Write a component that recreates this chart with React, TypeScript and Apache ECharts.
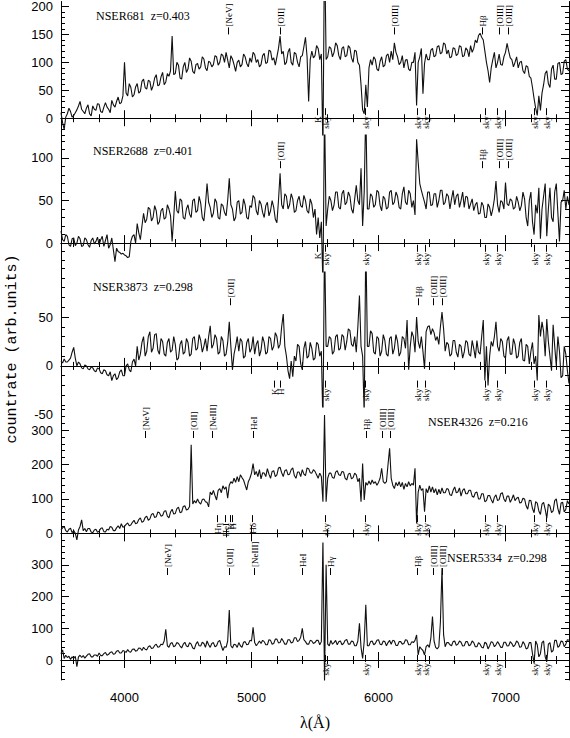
import React, { useEffect, useRef } from "react";
import * as echarts from "echarts";

// wavelength grid of the spectra (Angstrom)
const lambdaStart = 3500;
const lambdaStep = 12.5;

const flux681 = [
  10, -8, -20, 2, 8, 18, 12, 2, 5, 10, 15, 22, 30, 16, 12, 8,
  18, 24, 8, 4, 22, 16, 14, 26, 25, 12, 10, 20, 28, 20, 16, 10,
  32, 24, 20, 30, 38, 26, 28, 40, 100, 45, 40, 62, 55, 38, 42, 56,
  62, 45, 48, 66, 70, 55, 52, 68, 66, 50, 58, 72, 78, 58, 60, 74,
  82, 60, 65, 80, 75, 85, 147, 78, 80, 100, 95, 72, 70, 92, 100, 82,
  88, 108, 102, 84, 80, 96, 98, 88, 92, 110, 106, 90, 85, 102, 100, 92,
  96, 112, 110, 95, 100, 115, 112, 100, 118, 104, 90, 112, 106, 96, 84, 100,
  104, 92, 96, 115, 110, 98, 92, 108, 100, 118, 114, 100, 105, 92, 96, 112,
  116, 98, 100, 122, 120, 104, 108, 95, 110, 125, 147, 115, 120, 96, 100, 118,
  125, 100, 95, 118, 115, 100, 92, 110, 112, 128, 145, 110, 30, 105, 120, 108,
  112, 130, 125, 105, 115, -60, 320, 105, 110, 128, 125, 110, 118, 135, 130, 112,
  105, 125, 128, 110, 112, 130, 126, 108, 100, 122, 120, 100, 95, 60, 15, 8,
  60, 20, 90, 105, 95, 110, 105, 88, 85, 102, 110, 92, 95, 112, 115, 100,
  120, 105, 135, 118, 110, 96, 100, 112, 90, 104, 105, 88, 85, 100, 100, 118,
  23, 100, 110, 125, 44, 98, 115, 105, 105, 122, 125, 110, 112, 128, 130, 115,
  118, 135, 132, 115, 122, 108, 110, 126, 125, 112, 115, 130, 128, 110, 112, 126,
  122, 110, 130, 118, 125, 140, 135, 148, 152, 145, 140, 120, 100, 85, 64, 90,
  105, 118, 90, 100, 115, 96, 95, 110, 118, 134, 120, 108, 105, 92, 100, 110,
  90, 100, 102, 85, 80, 94, 92, 75, 72, 55, 35, 18, 5, 40, 14, 45,
  60, 80, 85, 62, 55, 88, 95, 70, 70, 98, 100, 78, 80, 102, 105, 88, 85,
];

const flux2688 = [
  14, 4, 2, 10, 8, -2, -4, 5, 6, -3, 0, 8, 5, -4, -3, 6,
  4, -2, -5, 3, 6, -1, 2, 7, -2, 4, 8, -4, 3, 10, -6, -2,
  6, -8, -22, -6, -10, -11, -13, -12, -14, -15, -17, -16, 2, 8, 10, 0,
  23, 12, 4, 20, 35, 24, 28, 42, 40, 26, 30, 44, 38, 22, 25, 38,
  41, 28, 30, 45, 40, 32, 2, 30, 61, 38, 35, 52, 50, 30, 28, 40,
  45, 34, 30, 50, 52, 36, 38, 55, 47, 30, 26, 45, 70, 48, 42, 30,
  35, 52, 48, 30, 28, 46, 44, 36, 32, 50, 76, 45, 40, 26, 30, 48,
  50, 34, 36, 52, 45, 30, 28, 44, 42, 56, 53, 38, 33, 50, 46, 36,
  30, 44, 48, 32, 38, 50, 42, 28, 24, 50, 82, 45, 40, 58, 55, 40,
  45, 58, 52, 36, 38, 50, 55, 44, 42, 56, 50, 38, 35, 52, 46, 30,
  40, 10, 30, 6, 25, -50, 160, 20, 40, 55, 50, 38, 45, 60, 60, 42,
  40, 58, 62, 45, 48, 60, 55, 40, 35, 52, 68, 50, 45, 88, 20, 60,
  160, 40, 40, 58, 55, 42, 45, 62, 60, 44, 38, 55, 52, 40, 42, 60,
  62, 45, 48, 60, 55, 42, 40, 58, 66, 48, 45, 62, 58, 42, 50, 33,
  122, 95, 70, 62, 55, 48, 40, 60, 60, 44, 45, 58, 58, 42, 50, 62,
  62, 45, 48, 58, 55, 40, 52, 62, 45, 55, 58, 42, 50, 60, 42, 55,
  54, 40, 46, 52, 38, 45, 48, 34, 35, 48, 44, 30, 30, 46, 42, 32,
  40, 52, 73, 45, 36, 50, 48, 40, 71, 46, 44, 52, 50, 40, 42, 55,
  48, 38, 44, 60, 52, 30, 20, 50, 60, 25, 10, 45, 35, 65, 5, 40,
  55, 70, 8, 40, 65, 30, 25, 60, 70, 35, 2, 48, 50, 62, 40, 55, 45,
];

const flux3873 = [
  5, 3, 7, 4, 4, 6, 8, 14, 19, 8, 0, 4, 2, -2, -3, 1,
  0, -3, -4, -1, -2, -5, -6, -2, -3, -7, -8, -4, -5, -9, -10, -6,
  -15, -10, -8, -14, -12, -6, -4, -10, -10, 0, 2, -4, -6, 4, 7, 0,
  20, 6, 12, 24, 30, 10, 15, 30, 35, 14, 18, 32, 33, 16, 12, 28,
  25, 12, 10, 24, 28, 14, 16, 30, 22, 6, 8, 22, 26, 12, 14, 28,
  24, 10, 12, 28, 30, 16, 18, 32, 26, 14, 20, 28, 15, 30, 41, 18,
  22, 32, 28, 12, 14, 30, 26, 10, 12, 24, 45, 20, -4, 12, 20, 30,
  15, 28, 25, 8, 10, 24, 28, 14, 18, 30, 12, 22, 26, 10, 16, 30,
  24, 12, 14, 30, 28, 16, 20, 34, 30, 18, 22, 40, 53, 20, 10, -5,
  -13, 5, -11, 10, 5, 22, 20, 2, -4, 18, 25, 8, 10, 24, 18, 6,
  8, 24, 22, 10, 15, -60, 130, 20, 20, 30, 28, 12, 15, 30, 32, 16,
  18, 32, 30, 16, 25, 38, 36, 22, 20, 30, 14, 40, 72, 20, 10, -50,
  130, 20, 20, 36, 33, 14, 12, 30, 28, 10, 15, 32, 26, 12, 10, 28,
  30, 12, 18, 32, 25, 10, 14, 30, 28, 18, 47, -4, 20, 35, 30, 14,
  50, 25, 18, 30, 15, -3, 35, 40, 41, 32, 38, 34, 26, 30, 22, 40,
  55, 38, 15, 24, 22, 10, 12, 26, 26, 14, 9, 22, 20, 8, 14, 26,
  24, 12, 10, 26, 18, 8, 26, 14, 12, 30, 47, -15, 20, -20, 10, 25,
  20, 30, 45, 20, 15, 28, 25, 10, 8, 26, 30, 12, 12, 28, 22, 8,
  10, 24, 28, 6, 5, 22, 20, 2, 15, 24, 2, 10, -15, 52, 30, 45,
  35, 10, 48, 25, 10, -5, 42, 20, 0, 30, 15, -12, -10, 20, 12, -5, -18,
];

const flux4326 = [
  10, 16, 20, 8, 4, 12, 15, 2, 8, 0, -19, 10, 20, 39, 8, 14,
  5, 14, 14, 4, 2, 10, 12, 3, 6, 14, 16, 5, 4, 12, 10, 20,
  18, 8, 8, 16, 22, 14, 28, 18, 20, 26, 30, 22, 24, 32, 38, 28,
  30, 40, 45, 32, 35, 46, 50, 38, 42, 55, 58, 46, 48, 62, 60, 50,
  52, 64, 66, 50, 45, 62, 70, 56, 58, 72, 76, 60, 62, 78, 80, 68,
  70, 78, 257, 85, 95, 88, 100, 90, 85, 98, 100, 92, 90, 77, 120, 112,
  125, 110, 97, 125, 130, 118, 138, 128, 135, 102, 140, 150, 145, 160, 148, 165,
  150, 170, 162, 155, 140, 126, 150, 160, 175, 203, 170, 180, 165, 185, 158, 176,
  175, 165, 188, 172, 160, 180, 182, 165, 170, 190, 192, 176, 165, 182, 185, 170,
  172, 185, 190, 168, 160, 178, 178, 165, 185, 172, 168, 190, 188, 176, 175, 185,
  180, 170, 160, 175, 165, 92, 344, 92, 160, 175, 175, 162, 160, 178, 182, 170,
  168, 180, 178, 160, 155, 172, 175, 158, 162, 175, 170, 150, 160, 92, 203, 97,
  148, 140, 152, 142, 155, 145, 150, 140, 148, 160, 189, 150, 145, 150, 200, 247,
  160, 140, 130, 148, 138, 150, 135, 148, 128, 145, 135, 150, 138, 145, 140, 189,
  29, 120, 140, 125, 130, 63, 130, 118, 138, 120, 135, 118, 130, 112, 128, 115,
  132, 118, 118, 130, 128, 112, 110, 125, 135, 118, 120, 132, 108, 125, 130, 115,
  115, 125, 125, 108, 105, 118, 120, 100, 100, 115, 115, 92, 95, 110, 110, 98,
  88, 105, 112, 95, 98, 115, 118, 100, 92, 108, 108, 90, 100, 112, 95, 102,
  105, 88, 90, 102, 100, 80, 70, 96, 95, 72, 60, 92, 88, 65, 55, 85,
  90, 70, 44, 85, 80, 60, 65, 95, 100, 72, 55, 88, 90, 62, 70, 95, 85,
];

const flux5334 = [
  20, 32, 5, 15, 8, 12, 2, 10, 5, 12, -21, 10, 15, 8, 14, 6,
  12, 18, 20, 10, 10, 16, 16, 12, 22, 14, 14, 20, 24, 15, 18, 24,
  26, 18, 20, 28, 30, 22, 22, 30, 28, 24, 33, 26, 25, 34, 35, 28,
  30, 38, 37, 30, 40, 34, 32, 42, 45, 36, 38, 46, 50, 40, 42, 50,
  48, 60, 97, 45, 40, 52, 55, 42, 45, 55, 52, 44, 38, 50, 56, 44,
  42, 55, 50, 38, 35, 50, 58, 45, 44, 56, 52, 40, 60, 48, 40, 52,
  55, 42, 45, 58, 62, 45, 30, 42, 40, 60, 158, 45, 38, 50, 48, 40,
  55, 45, 40, 56, 58, 48, 50, 62, 60, 103, 55, 45, 52, 60, 52, 62,
  58, 48, 48, 64, 62, 50, 52, 66, 66, 54, 55, 68, 60, 50, 50, 64,
  64, 54, 56, 70, 70, 58, 62, 72, 100, 64, 58, 50, 50, 62, 60, 52,
  55, 62, 62, 48, 58, 380, -70, 300, 50, 45, 62, 50, 55, 62, 48, 58,
  60, 48, 52, 62, 65, 50, 50, 60, 58, 45, 45, 60, 116, 40, 5, 60,
  174, 45, 45, 58, 60, 48, 52, 62, 64, 50, 48, 60, 58, 45, 55, 62,
  50, 62, 60, 46, 46, 58, 58, 50, 52, 64, 62, 48, 48, 58, 55, 62,
  79, 16, 42, 35, 30, 16, 42, 48, 40, 70, 137, 60, 40, 35, 42, 120,
  290, 80, 42, 55, 55, 48, 45, 58, 60, 46, 50, 60, 56, 44, 45, 58,
  58, 45, 48, 60, 55, 42, 42, 55, 50, 40, 38, 56, 52, 35, 45, 58,
  55, 42, 48, 58, 50, 40, 40, 56, 56, 44, 45, 58, 52, 42, 48, 60,
  55, 40, 42, 58, 50, 35, 38, 55, 55, 20, -11, 60, 48, 10, 20, 55,
  60, 10, -5, 50, 55, 25, 30, 62, 62, 40, 45, 60, 58, 42, 50, 64, 62,
];

// tick values
const xMajor = [4000, 5000, 6000, 7000];
const xMinor = [3600, 3800, 4200, 4400, 4600, 4800, 5200, 5400, 5600, 5800, 6200, 6400, 6600, 6800, 7200, 7400];

// observed wavelengths of sky lines
const skyLines = [5577, 5893, 6300, 6366, 6840, 6932, 7228, 7320];

// emission / absorption line labels (observed wavelength)
const linesTop681: [string, number][] = [["[NeV]", 4814], ["[OII]", 5228], ["[OIII]", 6125], ["Hβ", 6814], ["[OIII]", 6945], ["[OIII]", 7019]];
const linesBot681: [string, number][] = [["K", 5519]];
const linesTop2688: [string, number][] = [["[OII]", 5225], ["Hβ", 6813], ["[OIII]", 6945], ["[OIII]", 7018]];
const linesBot2688: [string, number][] = [["K", 5513]];
const linesTop3873: [string, number][] = [["[OII]", 4830], ["Hβ", 6314], ["[OIII]", 6432], ["[OIII]", 6498]];
const linesBot3873: [string, number][] = [["K", 5180], ["H", 5228]];
const linesTop4326: [string, number][] = [["[NeV]", 4160], ["[OII]", 4541], ["[NeIII]", 4686], ["HeI", 5014], ["Hβ", 5902], ["[OIII]", 6026], ["[OIII]", 6091]];
const linesBot4326: [string, number][] = [["Hη", 4725], ["HeI", 4791], ["K", 4830], ["H", 4848], ["Hδ", 5006]];
const linesTop5334: [string, number][] = [["[NeV]", 4331], ["[OII]", 4825], ["[NeIII]", 5019], ["HeI", 5395], ["Hγ", 5618], ["Hβ", 6301], ["[OIII]", 6432], ["[OIII]", 6503]];
const linesBot5334: [string, number][] = [];

const titles = ["NSER681  z=0.403", "NSER2688  z=0.401", "NSER3873  z=0.298", "NSER4326  z=0.216", "NSER5334  z=0.298"];

const panels = [
  { flux: flux681, yMin: -30, yMax: 209, major: [0, 50, 100, 150, 200], minorStep: 10, top: 0, height: 135, topAnchor: 150, botAnchor: 18, linesTop: linesTop681, linesBot: linesBot681, titleX: 96, titleY: 16 },
  { flux: flux2688, yMin: -34, yMax: 127, major: [0, 50, 100], minorStep: 10, top: 135, height: 137, topAnchor: 88, botAnchor: -2, linesTop: linesTop2688, linesBot: linesBot2688, titleX: 93, titleY: 151 },
  { flux: flux3873, yMin: -42, yMax: 96, major: [0, 50], minorStep: 10, top: 272, height: 135, topAnchor: 62, botAnchor: -15, linesTop: linesTop3873, linesBot: linesBot3873, titleX: 93, titleY: 287 },
  { flux: flux4326, yMin: -28, yMax: 367, major: [0, 100, 200, 300], minorStep: 20, top: 407, height: 136, topAnchor: 277, botAnchor: 53, linesTop: linesTop4326, linesBot: linesBot4326, titleX: 428, titleY: 422 },
  { flux: flux5334, yMin: -63, yMax: 369, major: [0, 100, 200, 300], minorStep: 20, top: 543, height: 137, topAnchor: 268, botAnchor: 16, linesTop: linesTop5334, linesBot: linesBot5334, titleX: 447, titleY: 558 },
];

function minorTicks(min: number, max: number, step: number, major: number[]) {
  const out: number[] = [];
  for (let v = Math.ceil(min / step) * step; v <= max; v += step) {
    if (!major.includes(v)) out.push(v);
  }
  return out;
}

const SANS = "'Liberation Sans', Arial, sans-serif";
const SERIF = "'Liberation Serif', 'Times New Roman', serif";
const DASH = 7;

function textEl(x: number, y: number, text: string, font: string, align: string, rotation = 0) {
  return {
    type: "text",
    x,
    y,
    rotation,
    silent: true,
    style: { text, font, fill: "#000", textAlign: align, textVerticalAlign: "middle", align, verticalAlign: "middle" },
  };
}

function dashEl(x: number, y1: number, y2: number) {
  const xx = Math.round(x) + 0.5;
  return { type: "line", silent: true, shape: { x1: xx, y1, x2: xx, y2 }, style: { stroke: "#000", lineWidth: 1 } };
}

export default function App() {
  const ref = useRef<HTMLDivElement>(null);
  useEffect(() => {
    const chart = echarts.init(ref.current!, null, { renderer: "svg" });
    const grids: any[] = [];
    const xAxes: any[] = [];
    const yAxes: any[] = [];
    const series: any[] = [];
    const axisLine = { show: true, lineStyle: { color: "#000", width: 1 } };
    const tickStyle = { color: "#000", width: 1 };
    const plain = (v: number) => String(v);

    panels.forEach((p, k) => {
      grids.push({ left: 61, right: 1, top: p.top, height: p.height });
      const xb = { type: "value", gridIndex: k, min: 3500, max: 7500, splitLine: { show: false } };
      const labelX = k === panels.length - 1
        ? { show: true, customValues: xMajor, formatter: plain, margin: 11, fontSize: 13, fontFamily: SANS, color: "#000" }
        : { show: false };
      xAxes.push({ ...xb, position: "bottom", axisLine, axisTick: { show: true, inside: true, length: 8, customValues: xMajor, lineStyle: tickStyle }, axisLabel: labelX });
      xAxes.push({ ...xb, position: "bottom", axisLine: { show: false }, axisTick: { show: true, inside: true, length: 4, customValues: xMinor, lineStyle: tickStyle }, axisLabel: { show: false } });
      xAxes.push({ ...xb, position: "top", axisLine, axisTick: { show: true, inside: true, length: 8, customValues: xMajor, lineStyle: tickStyle }, axisLabel: { show: false } });
      xAxes.push({ ...xb, position: "top", axisLine: { show: false }, axisTick: { show: true, inside: true, length: 4, customValues: xMinor, lineStyle: tickStyle }, axisLabel: { show: false } });

      const yb = { type: "value", gridIndex: k, min: p.yMin, max: p.yMax, splitLine: { show: false } };
      const yMinor = minorTicks(p.yMin, p.yMax, p.minorStep, p.major);
      yAxes.push({ ...yb, position: "left", axisLine, axisTick: { show: true, inside: true, length: 8, customValues: p.major, lineStyle: tickStyle }, axisLabel: { show: true, customValues: p.major, formatter: plain, margin: 8, fontSize: 13, fontFamily: SANS, color: "#000" } });
      yAxes.push({ ...yb, position: "left", axisLine: { show: false }, axisTick: { show: true, inside: true, length: 4, customValues: yMinor, lineStyle: tickStyle }, axisLabel: { show: false } });
      yAxes.push({ ...yb, position: "right", axisLine, axisTick: { show: true, inside: true, length: 8, customValues: p.major, lineStyle: tickStyle }, axisLabel: { show: false } });
      yAxes.push({ ...yb, position: "right", axisLine: { show: false }, axisTick: { show: true, inside: true, length: 4, customValues: yMinor, lineStyle: tickStyle }, axisLabel: { show: false } });

      series.push({
        type: "line",
        xAxisIndex: 4 * k,
        yAxisIndex: 4 * k,
        data: p.flux.map((v, i) => [lambdaStart + i * lambdaStep, v]),
        showSymbol: false,
        symbol: "none",
        clip: true,
        silent: true,
        lineStyle: { color: "#111", width: 1.1 },
      });
    });

    chart.setOption({
      animation: false,
      backgroundColor: "#fff",
      grid: grids,
      xAxis: xAxes,
      yAxis: yAxes,
      series,
    });

    // line identifications, placed through each panel's own axes
    const graphics: any[] = [];
    const labelFont = `9px ${SERIF}`;
    panels.forEach((p, k) => {
      const finder = { xAxisIndex: 4 * k, yAxisIndex: 4 * k };
      p.linesTop.forEach(([n, l]) => {
        const pt = chart.convertToPixel(finder, [l, p.topAnchor]) as number[];
        graphics.push(dashEl(pt[0], pt[1], pt[1] - DASH));
        graphics.push(textEl(Math.round(pt[0]) + 0.5, pt[1] - DASH - 1, n, labelFont, "left", Math.PI / 2));
      });
      const bot: [string, number][] = [...p.linesBot, ...skyLines.map((l) => ["sky", l] as [string, number])];
      bot.forEach(([n, l]) => {
        const pt = chart.convertToPixel(finder, [l, p.botAnchor]) as number[];
        graphics.push(dashEl(pt[0], pt[1], pt[1] + DASH));
        graphics.push(textEl(Math.round(pt[0]) + 0.5, pt[1] + DASH + 1, n, labelFont, "right", Math.PI / 2));
      });
      graphics.push(textEl(p.titleX, p.titleY, titles[k], `12px ${SERIF}`, "left"));
    });
    graphics.push(textEl(53, 414, "-50", `13px ${SANS}`, "right"));
    graphics.push(textEl(12, 349, "countrate (arb.units)", `15px 'Liberation Mono', monospace`, "center", Math.PI / 2));
    graphics.push(textEl(315, 722, "λ(Å)", `16px ${SERIF}`, "center"));

    chart.setOption({ graphic: graphics });
    return () => chart.dispose();
  }, []);
  return <div ref={ref} style={{ position: "absolute", left: 0, top: 0, width: 570, height: 738 }} />;
}
